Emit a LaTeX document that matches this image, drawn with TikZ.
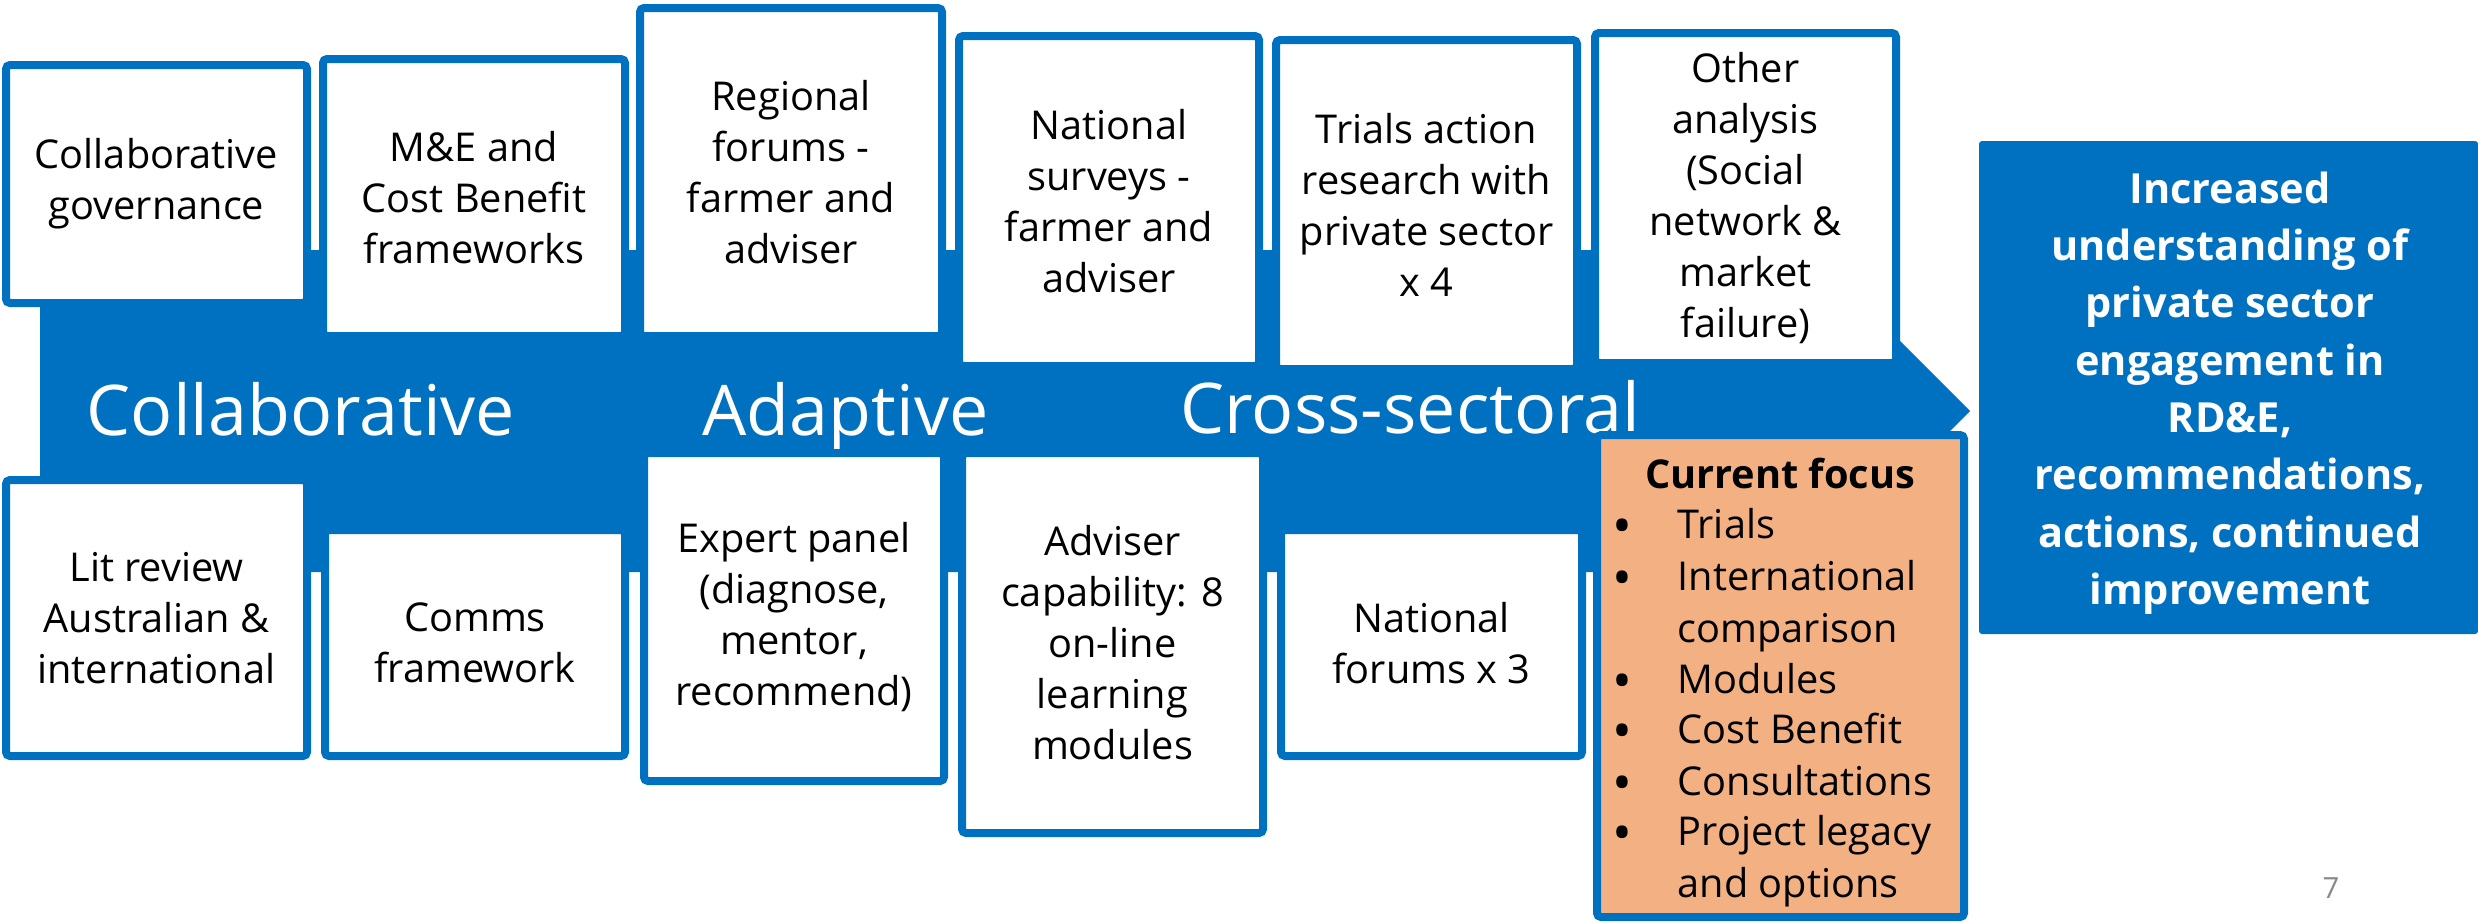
\documentclass[tikz,border=0pt]{standalone}
\usepackage{fontspec}
\setmainfont{Open Sans}
\definecolor{myblue}{RGB}{0,112,192}
\definecolor{myorange}{RGB}{243,176,131}
\definecolor{pagegray}{RGB}{137,137,137}
\newcommand{\boxfont}{\fontsize{11.3}{14.5}\selectfont}
\newcommand{\bigfont}{\fontsize{19.9}{24}\selectfont}
\newcommand{\outfont}{\fontsize{11.8}{16.3}\selectfont\bfseries}
\begin{document}
\begin{tikzpicture}[x=0.1mm,y=-0.1mm,
  sz/.style 2 args={minimum width=#1*0.1mm, minimum height=#2*0.1mm},
  box/.style={draw=myblue, line width=0.8mm, fill=white, rounded corners=0.4mm,
    inner sep=0pt, align=center, font=\boxfont, text=black},
  focusbox/.style={box, fill=myorange},
  bandtext/.style={anchor=base west, inner sep=0pt, text=white, font=\bigfont},
  fline/.style={anchor=base west, inner sep=0pt, font=\boxfont, text=black},
  bul/.style={anchor=base west, inner sep=0pt, font=\fontsize{15}{15}\selectfont, text=black},
  outbox/.style={fill=myblue, rounded corners=0.3mm, inner sep=0pt, align=center,
    font=\outfont, text=white}]
\useasboundingbox (0,0) rectangle (2478,922);
% band arrow
\fill[myblue] (40,250) -- (1809,250) -- (1970,411) -- (1809,572) -- (40,572) -- cycle;
\node[bandtext] (t1) at (86,435) {Collaborative};
\node[bandtext] (t2) at (702,435) {Adaptive};
\node[bandtext] (t3) at (1180,433) {Cross-sectoral};
% top row
\node[box, sz={301}{238}] (a) at (156.5,184) {Collaborative\\governance};
\node[box, sz={302}{277}] (b) at (474,197.5) {M\&E and\\Cost Benefit\\frameworks};
\node[box, sz={302}{328}] (c) at (791,172) {Regional\\forums -\\farmer and\\adviser};
\node[box, sz={300}{330}] (d) at (1109,201) {National\\surveys -\\farmer and\\adviser};
\node[box, sz={301}{329}] (i) at (1426.5,204.5) {Trials action\\research with\\private sector\\x 4};
\node[box, sz={301}{330}] (j) at (1745.5,198) {Other\\analysis\\(Social\\network \&\\market\\failure)};
% bottom row
\node[box, sz={301}{276}] (e) at (156.5,618) {Lit review\\Australian \&\\international};
\node[box, sz={300}{226}] (f) at (475,643) {Comms\\framework};
\node[box, sz={300}{328}] (g) at (794,617) {Expert panel\\(diagnose,\\mentor,\\recommend)};
\node[box, sz={301}{380}] (h) at (1112.5,643) {Adviser\\capability: 8\\on-line\\learning\\modules};
\node[box, sz={301}{226}] (k) at (1431.5,643) {National\\forums x 3};
% current focus
\node[focusbox, sz={367}{482}] (l) at (1780.5,676) {};
\node[anchor=base, inner sep=0pt, font=\boxfont\bfseries] (lt) at (1780,488) {Current focus};
\node[bul] (b1) at (1612,544) {\textbullet};
\node[fline] (l1) at (1677,538) {Trials};
\node[bul] (b2) at (1612,596) {\textbullet};
\node[fline] (l2) at (1677,590) {International};
\node[fline] (l2b) at (1677,642) {comparison};
\node[bul] (b3) at (1612,699) {\textbullet};
\node[fline] (l3) at (1677,693) {Modules};
\node[bul] (b4) at (1612,749) {\textbullet};
\node[fline] (l4) at (1677,743) {Cost Benefit};
\node[bul] (b5) at (1612,801) {\textbullet};
\node[fline] (l5) at (1677,795) {Consultations};
\node[bul] (b6) at (1612,851) {\textbullet};
\node[fline] (l6) at (1677,845) {Project legacy};
\node[fline] (l6b) at (1677,897) {and options};
% outcome box
\node[outbox, sz={499}{493}] (o) at (2228.5,387.5) {};
\node[inner sep=0pt, align=center, font=\outfont, text=white] (ot) at (2230,393)
  {Increased\\understanding of\\private sector\\engagement in\\RD\&E,\\recommendations,\\actions, continued\\improvement};
% page number
\node[inner sep=0pt, text=pagegray, font=\fontsize{8.3}{10}\selectfont] (pn) at (2331,888) {7};
\end{tikzpicture}
\end{document}
